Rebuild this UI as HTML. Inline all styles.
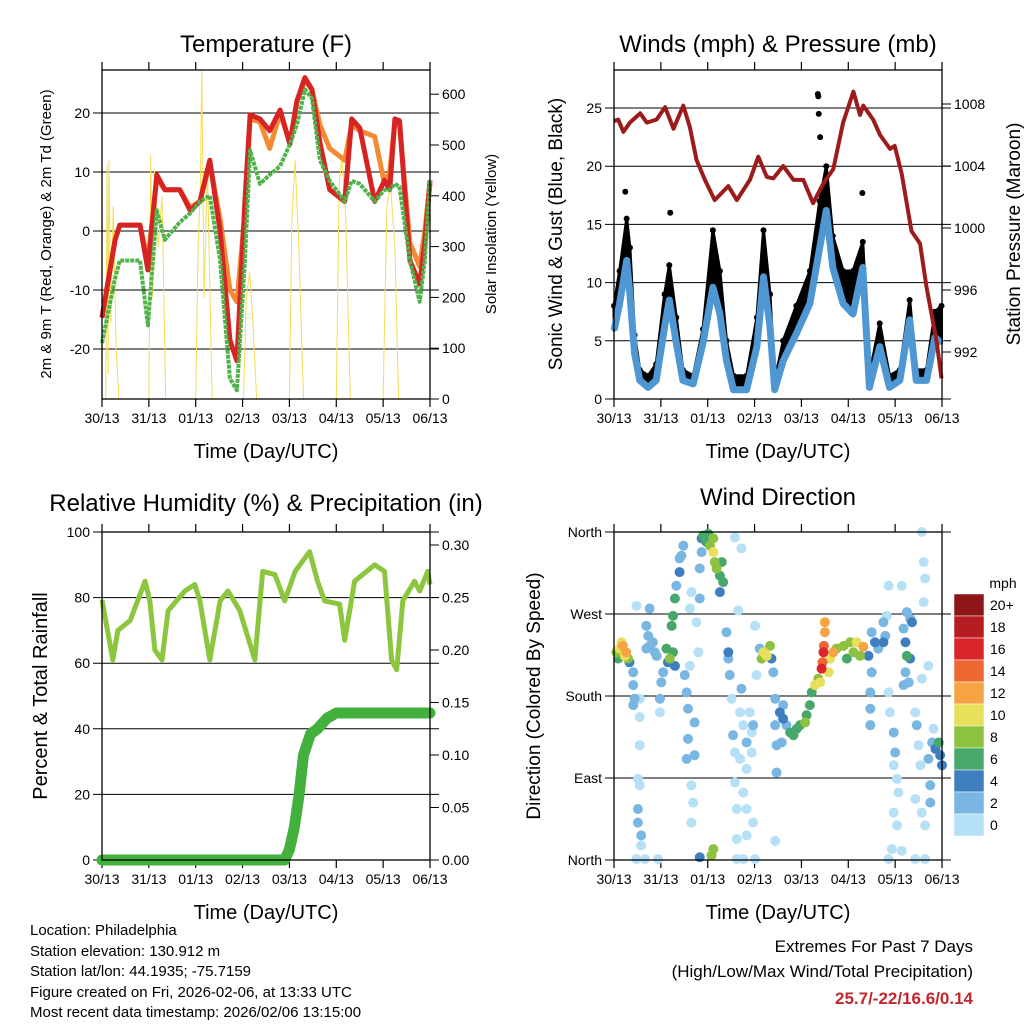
<!DOCTYPE html>
<html><head><meta charset="utf-8"><style>
html,body{margin:0;padding:0;background:#fff}
svg{display:block;font-family:"Liberation Sans",sans-serif}
</style></head><body>
<svg id="chart" width="1024" height="1024" viewBox="0 0 1024 1024" xmlns="http://www.w3.org/2000/svg">
<rect width="1024" height="1024" fill="#fff"/>
<text x="266" y="52" font-size="24" text-anchor="middle">Temperature (F)</text>
<text x="778" y="52" font-size="24" text-anchor="middle">Winds (mph) &amp; Pressure (mb)</text>
<text x="266" y="511" font-size="24" text-anchor="middle">Relative Humidity (%) &amp; Precipitation (in)</text>
<text x="778" y="505" font-size="24" text-anchor="middle">Wind Direction</text>
<text x="266" y="458" font-size="20" text-anchor="middle">Time (Day/UTC)</text>
<text x="778" y="458" font-size="20" text-anchor="middle">Time (Day/UTC)</text>
<text x="266" y="919" font-size="20" text-anchor="middle">Time (Day/UTC)</text>
<text x="778" y="919" font-size="20" text-anchor="middle">Time (Day/UTC)</text>
<text transform="translate(51,234) rotate(-90)" font-size="15" text-anchor="middle">2m &amp; 9m T (Red, Orange) &amp; 2m Td (Green)</text>
<text transform="translate(496,234) rotate(-90)" font-size="15" text-anchor="middle">Solar Insolation (Yellow)</text>
<text transform="translate(562,234) rotate(-90)" font-size="19" text-anchor="middle">Sonic Wind &amp; Gust (Blue, Black)</text>
<text transform="translate(1020,234) rotate(-90)" font-size="19" text-anchor="middle">Station Pressure (Maroon)</text>
<text transform="translate(47,696) rotate(-90)" font-size="20" text-anchor="middle">Percent &amp; Total Rainfall</text>
<text transform="translate(540,696) rotate(-90)" font-size="19" text-anchor="middle">Direction (Colored By Speed)</text>
<g font-size="15">
<text x="30" y="935">Location: Philadelphia</text>
<text x="30" y="956">Station elevation: 130.912 m</text>
<text x="30" y="976">Station lat/lon: 44.1935; -75.7159</text>
<text x="30" y="997">Figure created on Fri, 2026-02-06, at 13:33 UTC</text>
<text x="30" y="1017">Most recent data timestamp: 2026/02/06 13:15:00</text>
</g>
<text x="973" y="952" font-size="17" text-anchor="end">Extremes For Past 7 Days</text>
<text x="973" y="977" font-size="17" text-anchor="end">(High/Low/Max Wind/Total Precipitation)</text>
<text x="973" y="1004" font-size="17" font-weight="bold" fill="#c0282d" text-anchor="end">25.7/-22/16.6/0.14</text>
<text x="1003" y="588" font-size="14" text-anchor="middle">mph</text>
</svg>
<script>
const dayLabels=['30/13','31/13','01/13','02/13','03/13','04/13','05/13','06/13'];
const tempTicks=[20,10,0,-10,-20];
const solarTicks=[0,100,200,300,400,500,600];
const windTicks=[0,5,10,15,20,25];
const pressTicks=[992,996,1000,1004,1008];
const rhTicks=[0,20,40,60,80,100];
const precipTicks=[0,0.05,0.10,0.15,0.20,0.25,0.30];
const dirTicks=[0,90,180,270,360];
const dirTickLabels=['North','East','South','West','North'];

const tempT=[0,0.28,0.38,0.81,0.98,1.17,1.34,1.66,1.88,2.09,2.30,2.52,2.73,2.88,3.05,3.16,3.37,3.58,3.80,4.01,4.16,4.33,4.48,4.65,4.86,5.18,5.33,5.50,5.82,6.03,6.14,6.25,6.35,6.57,6.78,6.89,7.0];
const tempRed=[-14.7,-1.5,1,1,-6.6,9.5,7,7,3.5,5,12,0,-18.5,-22,5,19.7,19,17,20.5,14.7,22,26,24,15,7,5,19,17.5,5,8.6,7,19,18.7,-5,-9,-2,8.6];
const tempOrange=[-14.7,-1.5,1,1,-5,9,7,7,4,5,11.5,2,-10,-12,3,19,18.5,14,20,15,22,25.5,24,18,14,12,18,17,16,8,10,18.5,18,-2,-6,0,8];
const tempDew=[-19,-8,-5,-5,-16,3.5,-1.5,1.5,3,5,6,-5,-25,-27,-5,13.7,8,9.5,11,14.7,18,24,22.5,12,8.5,5,8.5,8,5,7,7,8,7.5,-5,-12,-5,8.6];
const solarT=[0,0.08,0.11,0.13,0.15,0.19,0.24,0.3,0.36,1.0,1.04,1.08,1.12,1.2,1.28,1.36,2.0,2.05,2.1,2.13,2.18,2.25,2.35,3.02,3.08,3.15,3.22,3.3,4.0,4.05,4.12,4.2,4.3,5.0,5.06,5.12,5.2,5.3,6.0,6.08,6.16,6.25,6.33,7.0];
const solarV=[0,0,460,50,470,150,380,100,0,0,480,200,450,300,400,0,0,300,420,650,200,460,0,0,200,250,150,0,0,350,470,300,0,0,420,480,360,0,0,380,420,300,0,0];

const windT=[0,0.12,0.27,0.34,0.44,0.55,0.73,0.9,1.08,1.18,1.33,1.47,1.69,1.9,2.11,2.26,2.4,2.55,2.83,3.05,3.19,3.33,3.43,3.61,3.89,4.18,4.39,4.53,4.67,4.89,5.1,5.31,5.45,5.67,5.88,6.1,6.31,6.45,6.67,6.85,6.99];
const windV=[5.9,8.2,11.9,9,3.9,1.6,1,1.6,6.2,8.5,4.8,1.6,1.3,4.8,9.6,7.3,3.3,0.8,0.8,4.5,10.5,6.2,0.8,3.3,5.6,8.2,13,16.2,11.3,8.2,7.3,11.3,1,4.5,1,1.6,6.8,1.6,1.6,5.3,4.8];
const gustV=[8,11,15.5,13,5.5,2.5,2,3,9,11.5,7,2.5,2,6,14.5,11,5,2,2,7,14.5,9,1.5,5,8,11,17,20,14,11,11,13.5,2,6.5,2,2.5,8.5,2.5,2.5,7.5,8];
const gustOutT=[0.24,1.2,4.35,4.36,4.37,4.4,5.3];
const gustOutV=[17.8,16,26.2,26,24.5,22.5,17.7];
const pressT=[0,0.09,0.2,0.34,0.56,0.7,0.91,1.09,1.27,1.48,1.62,1.76,1.94,2.15,2.44,2.62,2.9,3.08,3.26,3.4,3.61,3.83,4.04,4.25,4.47,4.68,4.89,5.11,5.25,5.32,5.53,5.68,5.89,5.99,6.14,6.35,6.53,6.67,6.89,6.99];
const pressV=[1006.9,1007,1006.2,1006.8,1007.4,1006.8,1007,1007.8,1006.4,1007.9,1006.5,1004.4,1003.1,1001.8,1002.7,1001.8,1003.1,1004.6,1003.3,1003.2,1004,1003.1,1003.1,1001.6,1002.9,1003.8,1006.8,1008.8,1007.3,1007.9,1007,1006,1005.1,1005.3,1003.5,999.8,999,996.2,992.6,990.3];

const rhT=[0,0.23,0.34,0.6,0.92,1.02,1.13,1.28,1.41,1.77,1.98,2.09,2.3,2.52,2.69,2.94,3.26,3.43,3.69,3.9,4.12,4.43,4.6,4.75,5.07,5.18,5.39,5.82,6.03,6.18,6.29,6.42,6.67,6.78,6.95,7.0];
const rhV=[79.3,61,70,73,85,79,64,61,76,82,84,79,61,79,82,76,61,88,87,79,88,94,85,79,78,67,85,90,88,61,58,79,85,82,88,84];
const precipT=[0,3.9,4.0,4.1,4.2,4.3,4.45,4.6,4.8,5.0,7.0];
const precipV=[0,0,0.01,0.03,0.06,0.1,0.12,0.125,0.135,0.14,0.14];

const dirT=[0.05,0.12,0.19,0.23,0.30,0.09,0.26,0.16,0.33,0.41,0.41,0.44,0.41,0.55,0.55,0.55,0.51,0.55,0.51,0.51,0.58,0.58,0.48,0.66,
0.69,0.73,0.76,0.83,0.87,0.76,0.48,0.91,0.69,1.01,0.98,0.98,0.94,1.05,
1.12,1.19,1.26,1.30,1.15,1.23,1.26,1.30,1.33,1.40,1.44,1.48,1.40,1.51,1.55,1.58,1.58,1.55,1.65,1.69,1.65,1.72,1.72,1.62,1.62,1.65,1.76,1.80,1.83,1.83,1.87,1.87,1.83,2.12,2.08,
1.90,1.97,2.05,2.12,2.15,2.19,2.26,2.30,2.33,2.26,2.12,2.01,2.58,2.72,2.65,2.40,2.44,2.44,2.47,2.51,2.54,2.58,2.58,2.62,2.62,2.62,2.76,2.69,2.76,2.83,2.69,2.83,2.90,2.97,2.94,2.76,2.83,2.97,2.83,3.01,2.72,3.01,3.04,2.94,
3.11,3.19,3.26,3.33,3.15,3.36,3.40,3.44,3.44,3.47,3.47,3.44,
3.54,3.61,3.68,3.76,3.83,3.90,3.97,4.08,4.11,4.18,4.22,4.29,4.36,4.40,3.58,3.61,4.43,4.47,4.48,4.50,4.50,4.45,4.58,4.61,4.68,4.75,4.90,5.04,5.18,5.32,5.11,5.25,4.97,
5.43,5.50,5.57,5.64,5.75,5.79,5.75,5.82,5.50,5.47,5.47,5.47,5.86,5.89,5.97,6.00,5.97,6.04,6.07,5.97,6.04,5.93,6.14,5.86,6.14,5.86,
6.18,6.22,6.25,6.32,6.36,6.22,6.29,6.18,6.57,6.71,6.25,6.32,6.43,6.46,6.50,6.54,6.43,6.57,6.64,6.71,6.75,6.75,6.79,6.86,6.93,6.96,7.00,6.57,6.61,6.64,6.61,6.43,6.64,6.82];
const dirV=[228,232,235,224,221,221,228,239,217,206,192,177,170,177,157,126,89,82,56,41,27,16,1,1,
257,246,235,239,228,276,279,224,232,195,177,162,1,206,
232,221,228,213,217,257,268,287,301,316,334,345,331,203,184,166,133,111,82,63,41,151,115,213,276,294,261,228,287,320,338,353,3,12,5,
356,349,345,338,327,320,312,327,305,294,353,358,354,342,274,250,228,221,203,177,137,118,85,56,23,1,1,162,148,129,111,100,162,148,118,74,56,41,27,1,188,257,203,140,
232,228,224,235,221,221,206,177,148,126,96,21,
162,155,148,140,137,144,148,151,159,170,184,192,199,195,129,170,210,228,235,250,261,217,206,221,228,232,235,239,239,234,228,224,221,
224,206,239,232,239,246,261,268,250,184,166,148,184,162,140,118,104,89,74,52,38,12,10,301,301,1,
254,239,224,221,261,206,195,192,199,213,272,265,162,148,126,104,67,52,38,111,82,63,129,122,129,115,104,360,327,309,283,1,1,144];
const dirS=[9,11,12,10,8,7,13,10,4,3,2,3,3,1,1,1,1,1,2,3,2,1,1,1,
3,2,3,2,2,2,1,3,3,3,2,1,1,2,
6,9,7,5,4,6,7,6,3,4,3,3,2,3,2,3,2,2,1,1,1,2,3,1,1,1,1,1,2,3,2,4,4,9,8,
6,7,9,10,8,8,7,6,6,4,8,7,1,1,1,3,5,3,2,1,3,1,1,1,1,1,1,1,1,2,1,1,1,2,1,1,1,1,1,1,3,1,1,1,
3,10,10,8,9,4,3,3,2,2,2,1,
4,4,3,7,6,6,6,8,7,6,6,10,9,10,2,2,16,17,15,13,12,14,10,11,13,9,8,8,10,12,9,8,6,
4,3,4,3,4,3,2,1,2,3,2,3,1,1,2,2,1,1,1,1,1,1,1,1,1,1,
3,4,6,5,4,3,3,3,1,1,2,3,1,2,1,1,1,1,1,2,2,3,3,4,6,5,4,1,1,1,1,1,1,1];
const cbLabels=['20+','18','16','14','12','10','8','6','4','2','0'];
const cbColors=['#8e1518','#b71c22','#d9262a','#ee6631','#f6a443','#e8df5a','#8cc23f','#48a86b','#3f7fbf','#7ab6e2','#b5e0f6'];

const NS='http://www.w3.org/2000/svg';
const svg=document.getElementById('chart');
function mk(tag,attrs,parent){const e=document.createElementNS(NS,tag);for(const k in attrs)e.setAttribute(k,attrs[k]);(parent||svg).appendChild(e);return e;}
function txt(x,y,s,anchor,size,parent){const e=mk('text',{x:x,y:y,'text-anchor':anchor,'font-size':size},parent);e.textContent=s;return e;}

const P1={x0:102,x1:430,y0:70,y1:399};
const P2={x0:614,x1:942,y0:70,y1:399};
const P3={x0:102,x1:430,y0:532,y1:860};
const P4={x0:614,x1:942,y0:532,y1:860};
const xs=P=>t=>P.x0+t*(P.x1-P.x0)/7;
const yTemp=v=>231-5.9*v, ySolar=v=>399-0.508*v;
const yWind=v=>399-11.64*v, yPress=v=>352-15.5*(v-992);
const yRH=v=>860-3.28*v, yPrecip=v=>860-1050*v;
const yDir=v=>860-v*328/360;

function panel(P,name,leftTicks,leftFn,leftFmt,rightTicks,rightFn,rightFmt,gridFn){
  const g=mk('g',{});
  
  
  leftTicks.forEach((v,i)=>{
    const y=leftFn(v);
    if(gridFn){const l=mk('line',{x1:P.x0-9,x2:P.x1+9,y1:y,y2:y,stroke:'#000','stroke-width':1},g);
      
      }
    const t=txt(P.x0-12,y+5,leftFmt(v,i),'end',14,g);
    
    
  });
  if(rightTicks) rightTicks.forEach((v,i)=>{
    const y=rightFn(v);
    const l=mk('line',{x1:P.x1,x2:P.x1+9,y1:y,y2:y,stroke:'#000','stroke-width':1},g);
    
    
    const t=txt(P.x1+12,y+5,rightFmt(v),'start',14,g);
    
    
  });
  const X=xs(P);
  dayLabels.forEach((d,i)=>{
    const x=X(i);
    const l=mk('line',{x1:x,x2:x,y1:P.y1,y2:P.y1+8,stroke:'#000','stroke-width':1.2},g);
    
    
    const l2=mk('line',{x1:x,x2:x,y1:P.y0,y2:P.y0-8,stroke:'#000','stroke-width':1.2},g);
    
    
    const t=txt(x,P.y1+24,d,'middle',14,g);
    
    
  });
  return g;
}
function frame(P,name){
  const r=mk('rect',{x:P.x0,y:P.y0,width:P.x1-P.x0,height:P.y1-P.y0,fill:'none',stroke:'#000','stroke-width':1.3});
  
  
}
function pathOf(T,V,X,Y){return T.map((t,i)=>(i?'L':'M')+X(t).toFixed(1)+','+Y(V[i]).toFixed(1)).join('');}

// Panel 1
panel(P1,'temperature',tempTicks,yTemp,v=>String(v),solarTicks,ySolar,v=>String(v),true);
const X1=xs(P1);
const solar=mk('path',{d:pathOf(solarT,solarV,X1,ySolar),fill:'none',stroke:'#f7dc55','stroke-width':1});


const lo=mk('path',{d:pathOf(tempT,tempOrange,X1,yTemp),fill:'none',stroke:'#f48a32','stroke-width':5,'stroke-linejoin':'round'});


const lr=mk('path',{d:pathOf(tempT,tempRed,X1,yTemp),fill:'none',stroke:'#d62424','stroke-width':5,'stroke-linejoin':'round'});


const lg=mk('path',{d:pathOf(tempT,tempDew,X1,yTemp),fill:'none',stroke:'#4fb24a','stroke-width':4,'stroke-dasharray':'4 1','stroke-linejoin':'round'});


frame(P1,'temperature');

// Panel 2
panel(P2,'wind',windTicks,yWind,v=>String(v),pressTicks,yPress,v=>String(v),true);
const X2=xs(P2);
let area='M'+windT.map((t,i)=>X2(t).toFixed(1)+','+yWind(gustV[i]).toFixed(1)).join('L');
for(let i=windT.length-1;i>=0;i--) area+='L'+X2(windT[i]).toFixed(1)+','+yWind(windV[i]).toFixed(1);
const ga=mk('path',{d:area+'Z',fill:'#000',stroke:'#000','stroke-width':3,'stroke-linejoin':'round'});


windT.forEach((t,i)=>{
  const c=mk('circle',{cx:X2(t),cy:yWind(gustV[i]),r:3,fill:'#000'});
  
  
});
gustOutT.forEach((t,i)=>{
  const c=mk('circle',{cx:X2(t),cy:yWind(gustOutV[i]),r:3,fill:'#000'});
  
  
});
const wl=mk('path',{d:pathOf(windT,windV,X2,yWind),fill:'none',stroke:'#4e97d3','stroke-width':7,'stroke-linejoin':'round'});


const pl=mk('path',{d:pathOf(pressT,pressV,X2,yPress),fill:'none',stroke:'#9c1c1c','stroke-width':4,'stroke-linejoin':'round'});


frame(P2,'wind');

// Panel 3
panel(P3,'humidity',rhTicks,yRH,v=>String(v),precipTicks,yPrecip,v=>v.toFixed(2),true);
const X3=xs(P3);
const rh=mk('path',{d:pathOf(rhT,rhV,X3,yRH),fill:'none',stroke:'#8cc63f','stroke-width':5,'stroke-linejoin':'round'});


const pr=mk('path',{d:pathOf(precipT,precipV,X3,yPrecip),fill:'none',stroke:'#43b03e','stroke-width':11,'stroke-linejoin':'round','stroke-linecap':'round'});


frame(P3,'humidity');

// Panel 4
panel(P4,'direction',dirTicks,yDir,(v,i)=>dirTickLabels[i],null,null,null,true);
const X4=xs(P4);
function spColor(s){let k=Math.min(10,Math.floor(s/2));return cbColors[10-k];}
const order=dirS.map((s,i)=>i).sort((a,b)=>dirS[a]-dirS[b]);
order.forEach(i=>{
  const c=mk('circle',{cx:X4(dirT[i]),cy:yDir(dirV[i]),r:5,fill:spColor(dirS[i])});
  
  
});
frame(P4,'direction');

// Colorbar
cbLabels.forEach((lab,i)=>{
  const y=594+i*22;
  const r=mk('rect',{x:954,y:y,width:30,height:22,fill:cbColors[i],stroke:'#fff','stroke-width':0.5});
  
  
  const t=txt(990,y+16,lab,'start',14);
  
  
});
</script>
</body></html>
